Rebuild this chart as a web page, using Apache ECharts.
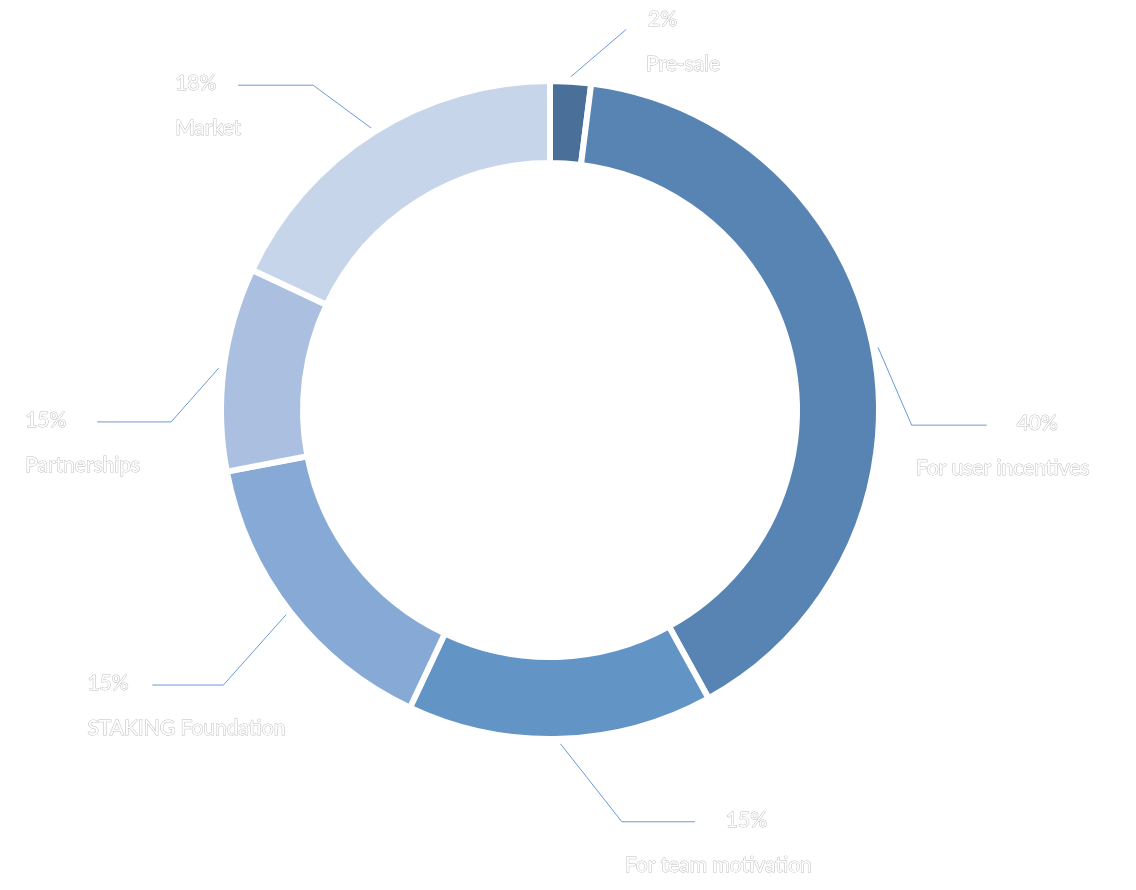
<!DOCTYPE html>
<html>
<head>
<meta charset="utf-8">
<title>Token distribution</title>
<script src="https://cdn.jsdelivr.net/npm/echarts@6/dist/echarts.min.js"></script>
<style>
  html, body { margin: 0; padding: 0; background: #fff; }
  #main { width: 1136px; height: 890px; }
</style>
</head>
<body>
<div id="main"></div>
<script>
// data
var names = ['Pre-sale', 'For user incentives', 'For team motivation', 'STAKING Foundation', 'Partnerships', 'Market'];
var values = [2, 40, 15, 15, 10, 18];
var pctLabels = ['2%', '40%', '15%', '15%', '15%', '18%'];

// styles
var colors = ['#4a6f99', '#5884b3', '#6294c6', '#86a9d6', '#abc0e0', '#c6d5e9'];
var CX = 550, CY = 410;
// label line bend point (deg clockwise from top, radius in px) and horizontal tail
var bendAngle = [11.3, 92.4, 170.1, 229.9, 268.2, 323.9];
var bendRadius = [388, 362, 418, 427, 379, 402];
var tailLen = [0, 75, 73, 71, 74, 75];
// text block offset from the end of the label line
var textDx = [20, -71, -70, -65, -72, -63];
var textDy = [-21, -13, -13, -13, -13, -13];
var pctKind = ['t', 'r', 'r', 'l', 'l', 'l'];

var myChart = echarts.init(document.getElementById('main'));

var txt = {
    fontFamily: 'Lato',
    fontSize: 21,
    color: '#ffffff',
    textBorderColor: '#bdbdbd',
    textBorderWidth: 1
};
function rich(extra) {
    return Object.assign({}, txt, extra);
}

var total = values.reduce(function (a, b) { return a + b; }, 0);

var option = {
    backgroundColor: '#ffffff',
    animation: false,
    color: colors,
    series: [
        {
            type: 'pie',
            center: [CX, CY],
            radius: [247, 329],
            startAngle: 90,
            clockwise: true,
            avoidLabelOverlap: false,
            itemStyle: { borderColor: '#ffffff', borderWidth: 6 },
            emphasis: { disabled: true },
            label: {
                show: true,
                position: 'outside',
                formatter: function (p) {
                    return '{p' + pctKind[p.dataIndex] + '|' + pctLabels[p.dataIndex] + '}\n{n|' + p.name + '}';
                },
                rich: {
                    pt: rich({ lineHeight: 22, padding: [0, 0, 0, 2] }),
                    pr: rich({ lineHeight: 22, padding: [0, 0, 0, 101] }),
                    pl: rich({ lineHeight: 22 }),
                    n: rich({ lineHeight: 68 })
                }
            },
            labelLine: {
                show: true,
                length: 40,
                length2: 40,
                lineStyle: { color: '#6a9ad6', width: 1 }
            },
            labelLayout: function (p) {
                var i = p.dataIndex;
                var s;
                if (p.labelLinePoints && p.labelLinePoints.length) {
                    s = p.labelLinePoints[0];
                } else {
                    var before = 0;
                    for (var k = 0; k < i; k++) before += values[k];
                    var m = (before + values[i] / 2) / total * 2 * Math.PI;
                    s = [CX + 329 * Math.sin(m), CY - 329 * Math.cos(m)];
                }
                var ux = s[0] - CX, uy = s[1] - CY;
                var d = Math.sqrt(ux * ux + uy * uy);
                var start = [s[0] + ux / d * 5, s[1] + uy / d * 5];
                var a = bendAngle[i] * Math.PI / 180;
                var bend = [CX + bendRadius[i] * Math.sin(a), CY - bendRadius[i] * Math.cos(a)];
                var dir = bend[0] < CX ? -1 : 1;
                var end = [bend[0] + dir * tailLen[i], bend[1]];
                return {
                    x: end[0] + textDx[i],
                    y: end[1] + textDy[i],
                    align: 'left',
                    verticalAlign: 'top',
                    labelLinePoints: [start, bend, end]
                };
            },
            data: names.map(function (n, i) {
                return { name: n, value: values[i] };
            })
        }
    ]
};

myChart.setOption(option);
</script>
</body>
</html>
